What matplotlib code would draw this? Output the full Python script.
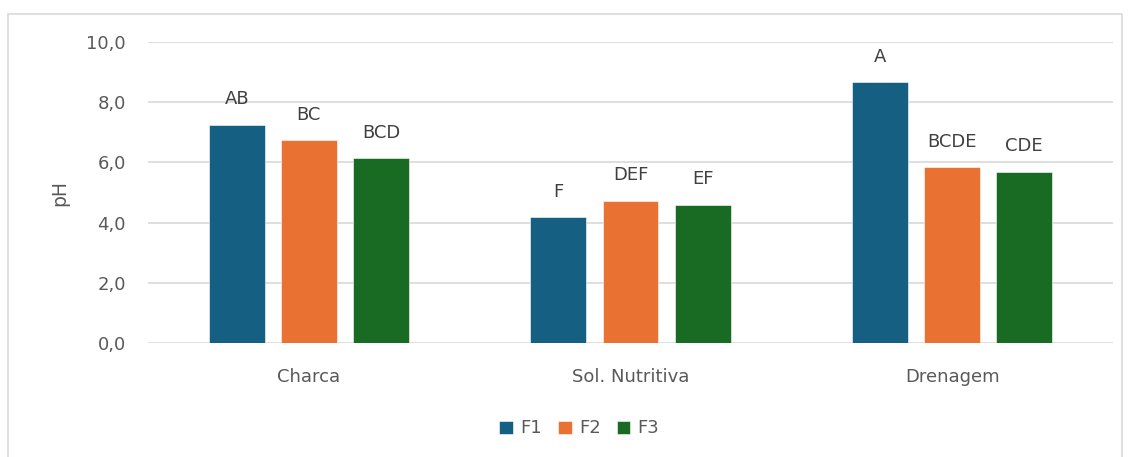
import matplotlib.pyplot as plt
import numpy as np
from matplotlib.patches import Rectangle

plt.rcParams['font.family'] = ['DejaVu Sans']

categories = ['Charca', 'Sol. Nutritiva', 'Drenagem']
series = ['F1', 'F2', 'F3']
f1 = [7.24, 4.18, 8.66]
f2 = [6.73, 4.73, 5.84]
f3 = [6.13, 4.58, 5.69]
letters_f1 = ['AB', 'F', 'A']
letters_f2 = ['BC', 'DEF', 'BCDE']
letters_f3 = ['BCD', 'EF', 'CDE']
colors = ['#156082', '#E97132', '#196B24']

fig = plt.figure(figsize=(11.31, 4.57), dpi=100)
fig.patches.append(Rectangle((8 / 1131, -0.01), 1114 / 1131, 1 - 14 / 457 + 0.01,
                             transform=fig.transFigure, fill=False,
                             edgecolor='#d9d9d9', linewidth=1.2))
ax = fig.add_axes([148 / 1131, 1 - 343 / 457, 965 / 1131, 301 / 457])

x = np.arange(len(categories))
width = 0.174
step = 0.224
values = [f1, f2, f3]
letters = [letters_f1, letters_f2, letters_f3]
for k in range(3):
    bars = ax.bar(x + (k - 1) * step, values[k], width, color=colors[k],
                  label=series[k], zorder=3, edgecolor='white', linewidth=0.4)
    for b, lab in zip(bars, letters[k]):
        ax.annotate(lab, (b.get_x() + b.get_width() / 2, b.get_height()),
                    xytext=(0, 12), textcoords='offset points',
                    ha='center', va='bottom', fontsize=13, color='#404040')

ax.set_xlim(-0.5, 2.5)
ax.set_ylim(0, 10)
ax.set_yticks(np.arange(0, 10.1, 2))
ax.set_yticklabels([f'{v:.1f}'.replace('.', ',') for v in np.arange(0, 10.1, 2)])
ax.set_xticks(x)
ax.set_xticklabels(categories)
ax.tick_params(axis='both', length=0, labelsize=13, colors='#595959')
ax.tick_params(axis='x', pad=18)
ax.tick_params(axis='y', pad=16)
ax.grid(axis='y', color='#d9d9d9', linewidth=1.2, zorder=0)
for s in ax.spines.values():
    s.set_visible(False)
ax.set_ylabel('pH', fontsize=13.5, color='#595959', labelpad=12)

ax.legend(loc='upper center', bbox_to_anchor=(0.447, -0.2), ncol=3, frameon=False,
          fontsize=13, handlelength=0.75, handleheight=0.75, handletextpad=0.4,
          columnspacing=0.9, labelcolor='#595959')

fig.savefig('out.png', dpi=100)
